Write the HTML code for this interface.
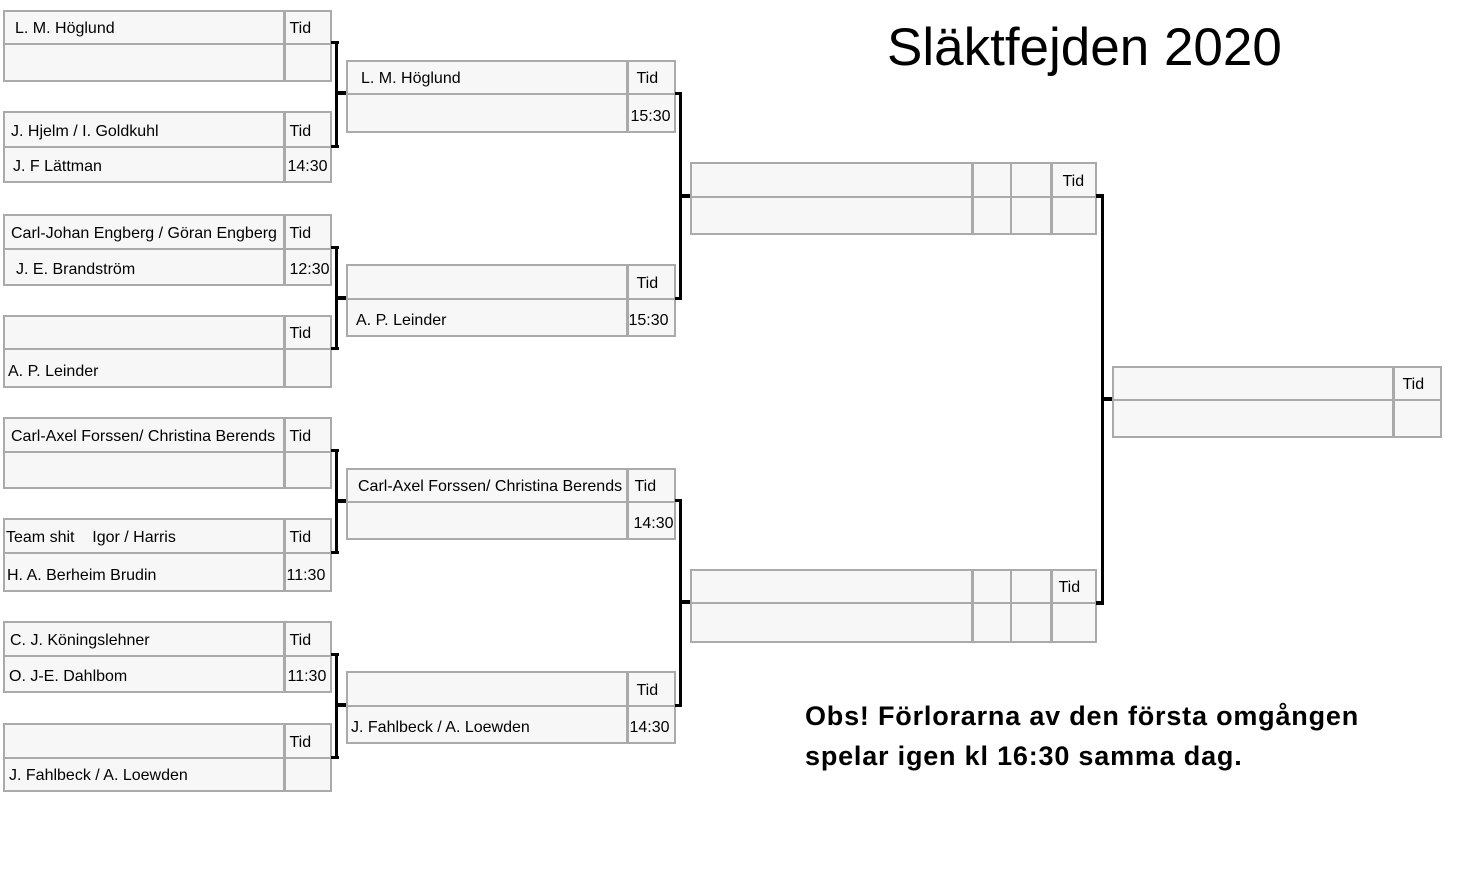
<!DOCTYPE html>
<html><head><meta charset="utf-8"><style>
body{margin:0;width:1462px;height:885px;background:#fff;position:relative;overflow:hidden;font-family:"Liberation Sans",sans-serif;color:#000}
table{position:absolute;border-collapse:collapse;table-layout:fixed;background:#f7f7f7}
td{border:2px solid #aaa;font-size:16px;padding:0 0 0 6px;white-space:nowrap;overflow:hidden;vertical-align:bottom;padding-bottom:5px;box-sizing:border-box}
td.v{border-left:3px solid #aaa;padding-left:4px}
.l{position:absolute;background:#000}
</style></head><body>
<div style="position:absolute;left:887px;top:17px;font-size:53px;">Släktfejden 2020</div>
<div style="position:absolute;left:805px;top:696px;font-size:27px;font-weight:bold;line-height:40px;letter-spacing:0.8px">Obs! Förlorarna av den första omgången<br>spelar igen kl 16:30 samma dag.</div>

<!-- round 1 -->
<table style="left:3px;top:10px;width:327px"><col style="width:280px"><col style="width:47px">
<tr style="height:33px"><td style="padding-left:10px">L. M. Höglund</td><td class="v">Tid</td></tr><tr style="height:37px"><td></td><td class="v"></td></tr></table>
<table style="left:3px;top:111px;width:327px"><col style="width:280px"><col style="width:47px">
<tr style="height:35px"><td>J. Hjelm / I. Goldkuhl</td><td class="v">Tid</td></tr><tr style="height:35px"><td style="padding-left:8px">J. F Lättman</td><td class="v" style="padding-left:2px">14:30</td></tr></table>
<table style="left:3px;top:214px;width:327px"><col style="width:280px"><col style="width:47px">
<tr style="height:34px"><td>Carl-Johan Engberg / Göran Engberg</td><td class="v">Tid</td></tr><tr style="height:36px"><td style="padding-left:11px">J. E. Brandström</td><td class="v" style="padding-left:4px">12:30</td></tr></table>
<table style="left:3px;top:315px;width:327px"><col style="width:280px"><col style="width:47px">
<tr style="height:33px"><td></td><td class="v">Tid</td></tr><tr style="height:38px"><td style="padding-left:3px">A. P. Leinder</td><td class="v"></td></tr></table>
<table style="left:3px;top:417px;width:327px"><col style="width:280px"><col style="width:47px">
<tr style="height:34px"><td>Carl-Axel Forssen/ Christina Berends</td><td class="v">Tid</td></tr><tr style="height:36px"><td></td><td class="v"></td></tr></table>
<table style="left:3px;top:518px;width:327px"><col style="width:280px"><col style="width:47px">
<tr style="height:34px"><td style="padding-left:1px">Team shit&nbsp;&nbsp;&nbsp; Igor / Harris</td><td class="v">Tid</td></tr><tr style="height:38px"><td style="padding-left:2px">H. A. Berheim Brudin</td><td class="v" style="padding-left:1px">11:30</td></tr></table>
<table style="left:3px;top:621px;width:327px"><col style="width:280px"><col style="width:47px">
<tr style="height:34px"><td style="padding-left:5px">C. J. Köningslehner</td><td class="v">Tid</td></tr><tr style="height:36px"><td style="padding-left:4px">O. J-E. Dahlbom</td><td class="v" style="padding-left:2px">11:30</td></tr></table>
<table style="left:3px;top:723px;width:327px"><col style="width:280px"><col style="width:47px">
<tr style="height:34px"><td></td><td class="v">Tid</td></tr><tr style="height:33px"><td style="padding-left:4px">J. Fahlbeck / A. Loewden</td><td class="v"></td></tr></table>

<!-- round 2 -->
<table style="left:346px;top:60px;width:328px"><col style="width:280px"><col style="width:48px">
<tr style="height:33px"><td style="padding-left:13px">L. M. Höglund</td><td class="v" style="padding-left:8px">Tid</td></tr><tr style="height:38px"><td></td><td class="v" style="padding-left:2px">15:30</td></tr></table>
<table style="left:346px;top:264px;width:328px"><col style="width:280px"><col style="width:48px">
<tr style="height:34px"><td></td><td class="v" style="padding-left:8px">Tid</td></tr><tr style="height:37px"><td style="padding-left:8px">A. P. Leinder</td><td class="v" style="padding-left:0px">15:30</td></tr></table>
<table style="left:346px;top:468px;width:328px"><col style="width:280px"><col style="width:48px">
<tr style="height:33px"><td style="padding-left:10px">Carl-Axel Forssen/ Christina Berends</td><td class="v" style="padding-left:6px">Tid</td></tr><tr style="height:37px"><td></td><td class="v" style="padding-left:5px">14:30</td></tr></table>
<table style="left:346px;top:671px;width:328px"><col style="width:280px"><col style="width:48px">
<tr style="height:34px"><td></td><td class="v" style="padding-left:8px">Tid</td></tr><tr style="height:37px"><td style="padding-left:3px">J. Fahlbeck / A. Loewden</td><td class="v" style="padding-left:1px">14:30</td></tr></table>

<!-- round 3 -->
<table style="left:690px;top:162px;width:405px"><col style="width:281px"><col style="width:39px"><col style="width:40px"><col style="width:45px">
<tr style="height:34px"><td></td><td class="v"></td><td></td><td class="v" style="padding-left:10px">Tid</td></tr><tr style="height:37px"><td></td><td class="v"></td><td></td><td class="v"></td></tr></table>
<table style="left:690px;top:569px;width:405px"><col style="width:281px"><col style="width:39px"><col style="width:40px"><col style="width:45px">
<tr style="height:33px"><td></td><td class="v"></td><td></td><td class="v" style="padding-left:6px">Tid</td></tr><tr style="height:39px"><td></td><td class="v"></td><td></td><td class="v"></td></tr></table>

<!-- final -->
<table style="left:1112px;top:366px;width:328px"><col style="width:280px"><col style="width:48px">
<tr style="height:33px"><td></td><td class="v" style="padding-left:8px">Tid</td></tr><tr style="height:37px"><td></td><td class="v"></td></tr></table>

<!-- connectors round1 -->
<div class="l" style="left:331px;top:41px;width:8px;height:3px"></div>
<div class="l" style="left:335px;top:41px;width:3px;height:107px"></div>
<div class="l" style="left:331px;top:145px;width:8px;height:3px"></div>
<div class="l" style="left:335px;top:91px;width:11px;height:4px"></div>

<div class="l" style="left:331px;top:246px;width:8px;height:3px"></div>
<div class="l" style="left:335px;top:246px;width:3px;height:104px"></div>
<div class="l" style="left:331px;top:347px;width:8px;height:3px"></div>
<div class="l" style="left:335px;top:296px;width:11px;height:4px"></div>

<div class="l" style="left:331px;top:449px;width:8px;height:3px"></div>
<div class="l" style="left:335px;top:449px;width:3px;height:105px"></div>
<div class="l" style="left:331px;top:551px;width:8px;height:3px"></div>
<div class="l" style="left:335px;top:499px;width:11px;height:4px"></div>

<div class="l" style="left:331px;top:653px;width:8px;height:3px"></div>
<div class="l" style="left:335px;top:653px;width:3px;height:105px"></div>
<div class="l" style="left:331px;top:756px;width:8px;height:3px"></div>
<div class="l" style="left:335px;top:703px;width:11px;height:4px"></div>

<!-- round2 -->
<div class="l" style="left:675px;top:92px;width:7px;height:3px"></div>
<div class="l" style="left:679px;top:92px;width:3px;height:208px"></div>
<div class="l" style="left:675px;top:297px;width:7px;height:3px"></div>
<div class="l" style="left:679px;top:194px;width:11px;height:4px"></div>

<div class="l" style="left:675px;top:499px;width:7px;height:3px"></div>
<div class="l" style="left:679px;top:499px;width:3px;height:208px"></div>
<div class="l" style="left:675px;top:704px;width:7px;height:3px"></div>
<div class="l" style="left:679px;top:600px;width:11px;height:4px"></div>

<!-- round3 -->
<div class="l" style="left:1096px;top:194px;width:8px;height:4px"></div>
<div class="l" style="left:1101px;top:194px;width:3px;height:411px"></div>
<div class="l" style="left:1096px;top:601px;width:8px;height:4px"></div>
<div class="l" style="left:1101px;top:397px;width:11px;height:4px"></div>
</body></html>
